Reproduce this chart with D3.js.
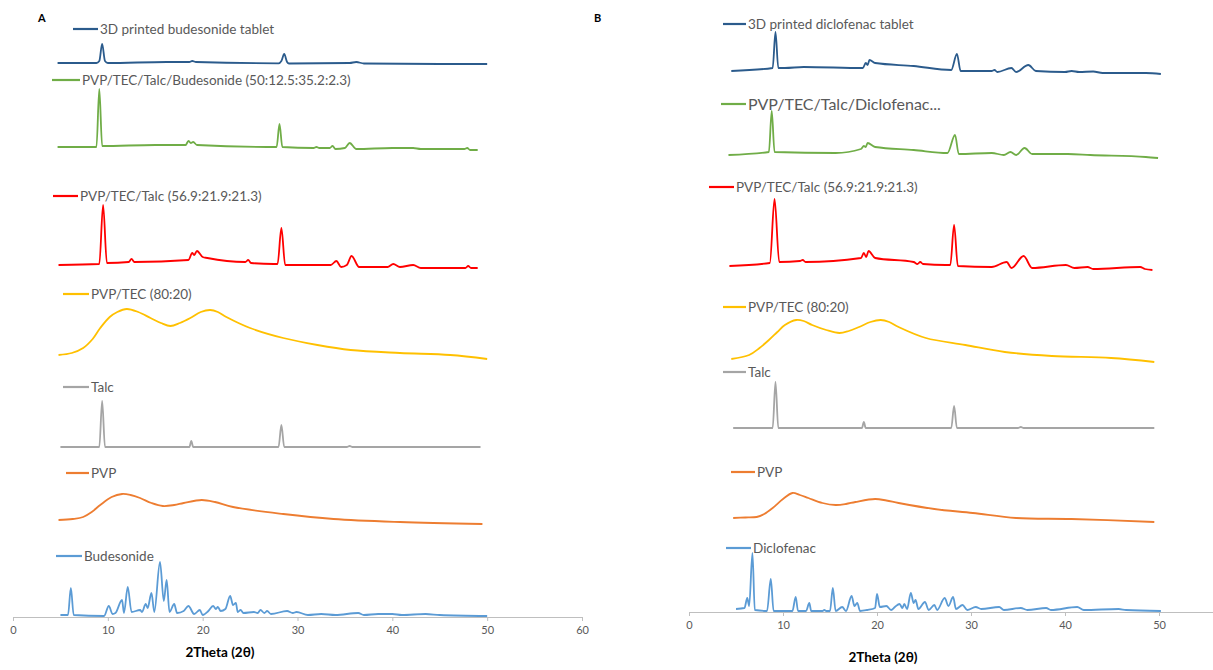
<!DOCTYPE html>
<meta charset="utf-8">
<style>
body { margin: 0; background: #fff; }
svg { font-family: Lato, "Open Sans", sans-serif; background: #fff; }
.trace { fill: none; stroke-width: 1.8; stroke-linejoin: round; }
.legend line { stroke-width: 2.2; }
.legend text { font-size: 13.5px; fill: #595959; }
.axis path, .axis line { stroke: #bfbfbf; }
.axis text { fill: #595959; font-size: 11px; font-family: Lato, sans-serif; }
.xtitle { font-weight: bold; font-size: 13.5px; fill: #000; text-anchor: middle; }
.tag { font-weight: bold; font-size: 11px; fill: #000; }
</style>
<svg width="1213" height="670"></svg>
<script src="https://d3js.org/d3.v7.min.js"></script>
<script>

// 2theta ticks
var thetaTicks = [0, 10, 20, 30, 40, 50, 60];

var namesA = ["3D printed budesonide tablet", "PVP/TEC/Talc/Budesonide (50:12.5:35.2:2.3)",
  "PVP/TEC/Talc (56.9:21.9:21.3)", "PVP/TEC (80:20)", "Talc", "PVP", "Budesonide"];
var namesB = ["3D printed diclofenac tablet", "PVP/TEC/Talc/Diclofenac...",
  "PVP/TEC/Talc (56.9:21.9:21.3)", "PVP/TEC (80:20)", "Talc", "PVP", "Diclofenac"];

// vertical offsets used to stack the patterns (a.u.)
var offsetsA = [5540, 4700, 3520, 2620, 1700, 970, 20];
var offsetsB = [5410, 4570, 3460, 2530, 1840, 940, 30];

var colors = ["#2b5b8c", "#70ad47", "#ff0000", "#ffc000", "#a5a5a5", "#ed7d31", "#5b9bd5"];

// ---- panel A patterns [2theta, intensity] ----
var tabletA = [[4.7,0],[8.8,0],[9.1,20],[9.4,190],[9.7,20],[10.0,0],[16.2,10],[18.6,10],[18.9,20],[19.3,10],
  [28.0,-3],[28.3,20],[28.6,90],[28.9,10],[29.1,-5],[35.5,0],[36.2,10],[37,-5],[45,-10],[50,-10]];
var mixA = [[4.7,0],[8.8,0],[9.1,580],[9.4,10],[15,20],[18.2,20],[18.5,60],[18.75,40],[19.0,50],[19.4,20],
  [26.8,0],[27.8,0],[28.1,230],[28.4,0],[31.7,-10],[32.0,0],[32.3,-10],[33.4,-10],[33.7,10],[34.0,-20],
  [35.0,-10],[35.5,40],[36.2,-20],[40.0,-10],[42.2,-10],[43,-20],[47.6,-20],[47.9,-10],[48.2,-30],[49.0,-30]];
var ptTalcA = [[4.8,0],[9.1,10],[9.5,600],[9.9,20],[12.2,30],[12.5,60],[12.8,30],[18.5,50],[18.9,120],[19.1,100],
  [19.4,140],[20.0,80],[20.5,70],[24.5,30],[24.8,50],[25.1,20],[27.5,10],[27.9,10],[28.3,370],[28.7,0],
  [30.3,0],[33.5,0],[34.1,40],[34.6,-20],[35.2,0],[35.7,90],[36.5,-20],[39.5,-20],[40.1,10],[40.8,-20],
  [42.2,0],[43,-30],[47.7,-30],[48.0,-10],[48.3,-30],[49.0,-30]];
var pvpTecA = [[4.8,0],[6.2,20],[7.4,70],[8.4,160],[9.2,270],[10.2,380],[11,430],[12.0,460],[13.2,430],[14.5,370],
  [15.6,320],[16.6,290],[17.6,320],[18.7,370],[19.8,430],[20.8,450],[21.6,430],[22.5,380],[25,270],[28.5,170],
  [32.1,100],[35.6,50],[40.8,20],[46.1,0],[50,-40]];
var talcA = [[5.0,0],[9.1,0],[9.4,460],[9.7,0],[18.6,0],[18.8,60],[19.0,0],[28.0,0],[28.3,220],[28.6,0],
  [35.2,0],[35.5,10],[35.8,0],[49.3,0]];
var pvpA = [[4.8,0],[6.3,10],[7.4,30],[8.3,80],[9.2,150],[10.4,230],[11.5,260],[12.4,250],[13.4,220],[14.6,170],
  [15.8,140],[17.0,150],[18.0,170],[19.9,200],[21.3,180],[23.2,130],[28.5,60],[33.8,10],[40.8,-20],[49.5,-40]];
var budesonide = [[5.0,0],[5.8,0],[6.1,270],[6.4,0],[9.6,-10],[10.1,90],[10.5,10],[10.8,20],[11.5,150],[11.7,20],
  [12.1,280],[12.5,30],[13.4,50],[13.6,30],[14.0,110],[14.2,70],[14.6,220],[14.9,30],[15.5,530],[15.9,140],
  [16.2,350],[16.5,30],[17.0,110],[17.3,20],[18.0,40],[18.5,90],[19.1,10],[19.7,50],[20.0,0],[20.6,40],
  [21.1,90],[21.4,60],[21.6,80],[21.9,40],[22.4,60],[22.9,190],[23.2,100],[23.5,120],[23.7,30],[24.0,50],
  [24.3,20],[25.4,30],[25.8,20],[26.1,50],[26.5,20],[26.8,40],[27.2,10],[28.9,40],[29.5,20],[29.9,30],
  [31.1,0],[32.5,10],[34.0,0],[36.4,20],[37,0],[38.5,10],[40.0,10],[41,0],[43.5,10],[45,0],[50,-10]];

// ---- panel B patterns [2theta, intensity] ----
var tabletB = [[4.5,0],[8.9,30],[9.2,390],[9.5,30],[10.2,30],[12.2,40],[18.5,30],[18.8,80],[19.0,60],[19.2,110],
  [19.8,80],[23.9,50],[27.9,10],[28.5,170],[28.9,0],[32.2,0],[32.5,10],[32.8,-10],[34.3,30],[34.8,-10],
  [36.1,60],[36.9,0],[40.0,-10],[40.7,0],[41.5,-10],[43.0,-5],[44,-20],[48.6,-20],[50.2,-30]];
var mixB = [[4.2,0],[8.5,30],[8.8,440],[9.1,30],[15.6,20],[18.3,60],[18.6,90],[18.8,80],[19.0,120],[19.8,80],
  [23.9,50],[27.5,20],[28.3,200],[28.7,10],[32.2,20],[33.5,0],[34.2,30],[34.8,0],[35.7,70],[36.5,10],
  [40.3,10],[42.7,0],[48.6,-20],[49.9,-30]];
var ptTalcB = [[4.3,0],[8.6,30],[9.1,670],[9.6,40],[11.8,50],[12.1,60],[12.4,40],[18.3,80],[18.6,130],[18.85,90],
  [19.1,150],[19.8,80],[23.9,40],[24.3,20],[24.6,40],[24.9,20],[27.3,10],[27.8,10],[28.2,410],[28.6,0],[32.2,-10],
  [33.8,40],[34.3,-20],[35.6,100],[36.5,-20],[40.1,10],[41,-20],[42.4,-10],[43,-30],[48.0,-10],[48.5,-30],[49.3,-40]];
var pvpTecB = [[4.5,0],[6.4,40],[7.5,110],[8.5,190],[9.4,270],[10.2,340],[11.4,390],[12.2,380],[13.1,340],[14.6,290],
  [16.0,260],[17.0,280],[18.1,320],[19.3,370],[20.4,390],[21.3,370],[22.3,320],[25.2,210],[29.4,140],[33.6,70],
  [38.6,30],[44.9,10],[49.5,-30]];
var talcB = [[4.7,0],[8.9,0],[9.2,460],[9.5,0],[18.4,0],[18.6,60],[18.8,0],[27.9,0],[28.2,220],[28.5,0],
  [35.0,0],[35.3,10],[35.6,0],[49.5,0]];
var pvpB = [[4.7,0],[6.0,5],[7.2,10],[8.0,40],[8.9,100],[10.0,190],[11.0,250],[11.8,230],[12.7,200],[14.2,150],
  [15.6,130],[16.7,140],[17.7,160],[19.8,190],[21.0,175],[22.3,150],[26.1,90],[30.2,50],[34.8,0],[40.7,-10],[49.5,-40]];
var diclofenac = [[5.0,0],[5.9,10],[6.2,110],[6.4,30],[6.75,560],[7.0,-10],[8.3,-20],[8.7,300],[9.0,-20],[11.0,-20],
  [11.35,120],[11.6,-20],[12.45,-20],[12.8,60],[13.0,-20],[14.2,-20],[14.4,-10],[14.6,-20],[15.0,-20],[15.3,210],
  [15.6,-20],[16.3,20],[16.7,-20],[17.3,130],[17.6,30],[17.9,60],[18.2,-20],[18.95,-10],[19.8,10],[20.0,150],
  [20.3,20],[21.0,30],[21.5,-10],[21.9,20],[22.4,50],[22.7,10],[22.9,50],[23.2,0],[23.6,160],[23.9,60],
  [24.1,90],[24.4,0],[25.1,70],[25.5,-10],[26.1,40],[26.4,-10],[27.2,110],[27.6,30],[28.1,120],[28.4,0],
  [29.1,40],[29.6,-10],[30.5,20],[31.1,0],[33.0,20],[33.5,-10],[35.3,10],[36,-10],[38.0,10],[38.5,-10],
  [41.3,20],[42,-10],[45.7,0],[46.5,-10],[50.2,-20]];

var svg = d3.select("svg"),
    width = +svg.attr("width");

// broad amorphous humps get a smooth curve, sharp patterns a monotone one
var smooth = [false, false, false, true, false, true, false];

var panels = [
  { tag: "A", tagX: 38, series: [tabletA, mixA, ptTalcA, pvpTecA, talcA, pvpA, budesonide],
    names: namesA, offsets: offsetsA,
    x: d3.scaleLinear().domain([0, 60]).range([13, 582]),
    y: d3.scaleLinear().domain([0, 6000]).range([617, 17]),
    titleX: 220, titleY: 657,
    legend: [[73,98,29],[52,80,80],[53,78,196],[63,89,294],[63,89,387],[66,89,473],[56,82,556]] },
  { tag: "B", tagX: 594, series: [tabletB, mixB, ptTalcB, pvpTecB, talcB, pvpB, diclofenac],
    names: namesB, offsets: offsetsB,
    x: d3.scaleLinear().domain([0, 60]).range([689, 1253]),
    y: d3.scaleLinear().domain([0, 6000]).range([612, 12]),
    titleX: 883, titleY: 662,
    legend: [[723,746,24],[721,746,104],[709,734,187],[723,746,307],[723,746,372],[731,755,472],[726,751,548]] }
];

panels.forEach(function(p) {
  var g = svg.append("g");

  g.append("g")
      .attr("class", "axis")
      .attr("transform", "translate(0," + p.y(0) + ")")
      .call(d3.axisBottom(p.x)
        .tickValues(thetaTicks.filter(function(t) { return p.x(t) < width; }))
        .tickSizeInner(4)
        .tickSizeOuter(0)
        .tickPadding(5));

  p.series.forEach(function(s, i) {
    var line = d3.line()
        .curve(smooth[i] ? d3.curveCatmullRom.alpha(0.5) : d3.curveMonotoneX)
        .x(function(d) { return p.x(d[0]); })
        .y(function(d) { return p.y(d[1] + p.offsets[i]); });

    g.append("path")
        .datum(s)
        .attr("class", "trace")
        .attr("stroke", colors[i])
        .attr("d", line);

    var lg = g.append("g").attr("class", "legend");
    var pos = p.legend[i];
    lg.append("line")
        .attr("x1", pos[0]).attr("x2", pos[1])
        .attr("y1", pos[2]).attr("y2", pos[2])
        .attr("stroke", colors[i]);
    lg.append("text")
        .attr("x", pos[1] + 2)
        .attr("y", pos[2])
        .attr("dy", "0.35em")
        .style("font-size", (p.tag == "B" && i == 1) ? "16px" : null)
        .text(p.names[i]);
  });

  g.append("text")
      .attr("class", "xtitle")
      .attr("x", p.titleX)
      .attr("y", p.titleY)
      .text("2Theta (2θ)");

  g.append("text")
      .attr("class", "tag")
      .attr("x", p.tagX)
      .attr("y", 22)
      .text(p.tag);
});

</script>
